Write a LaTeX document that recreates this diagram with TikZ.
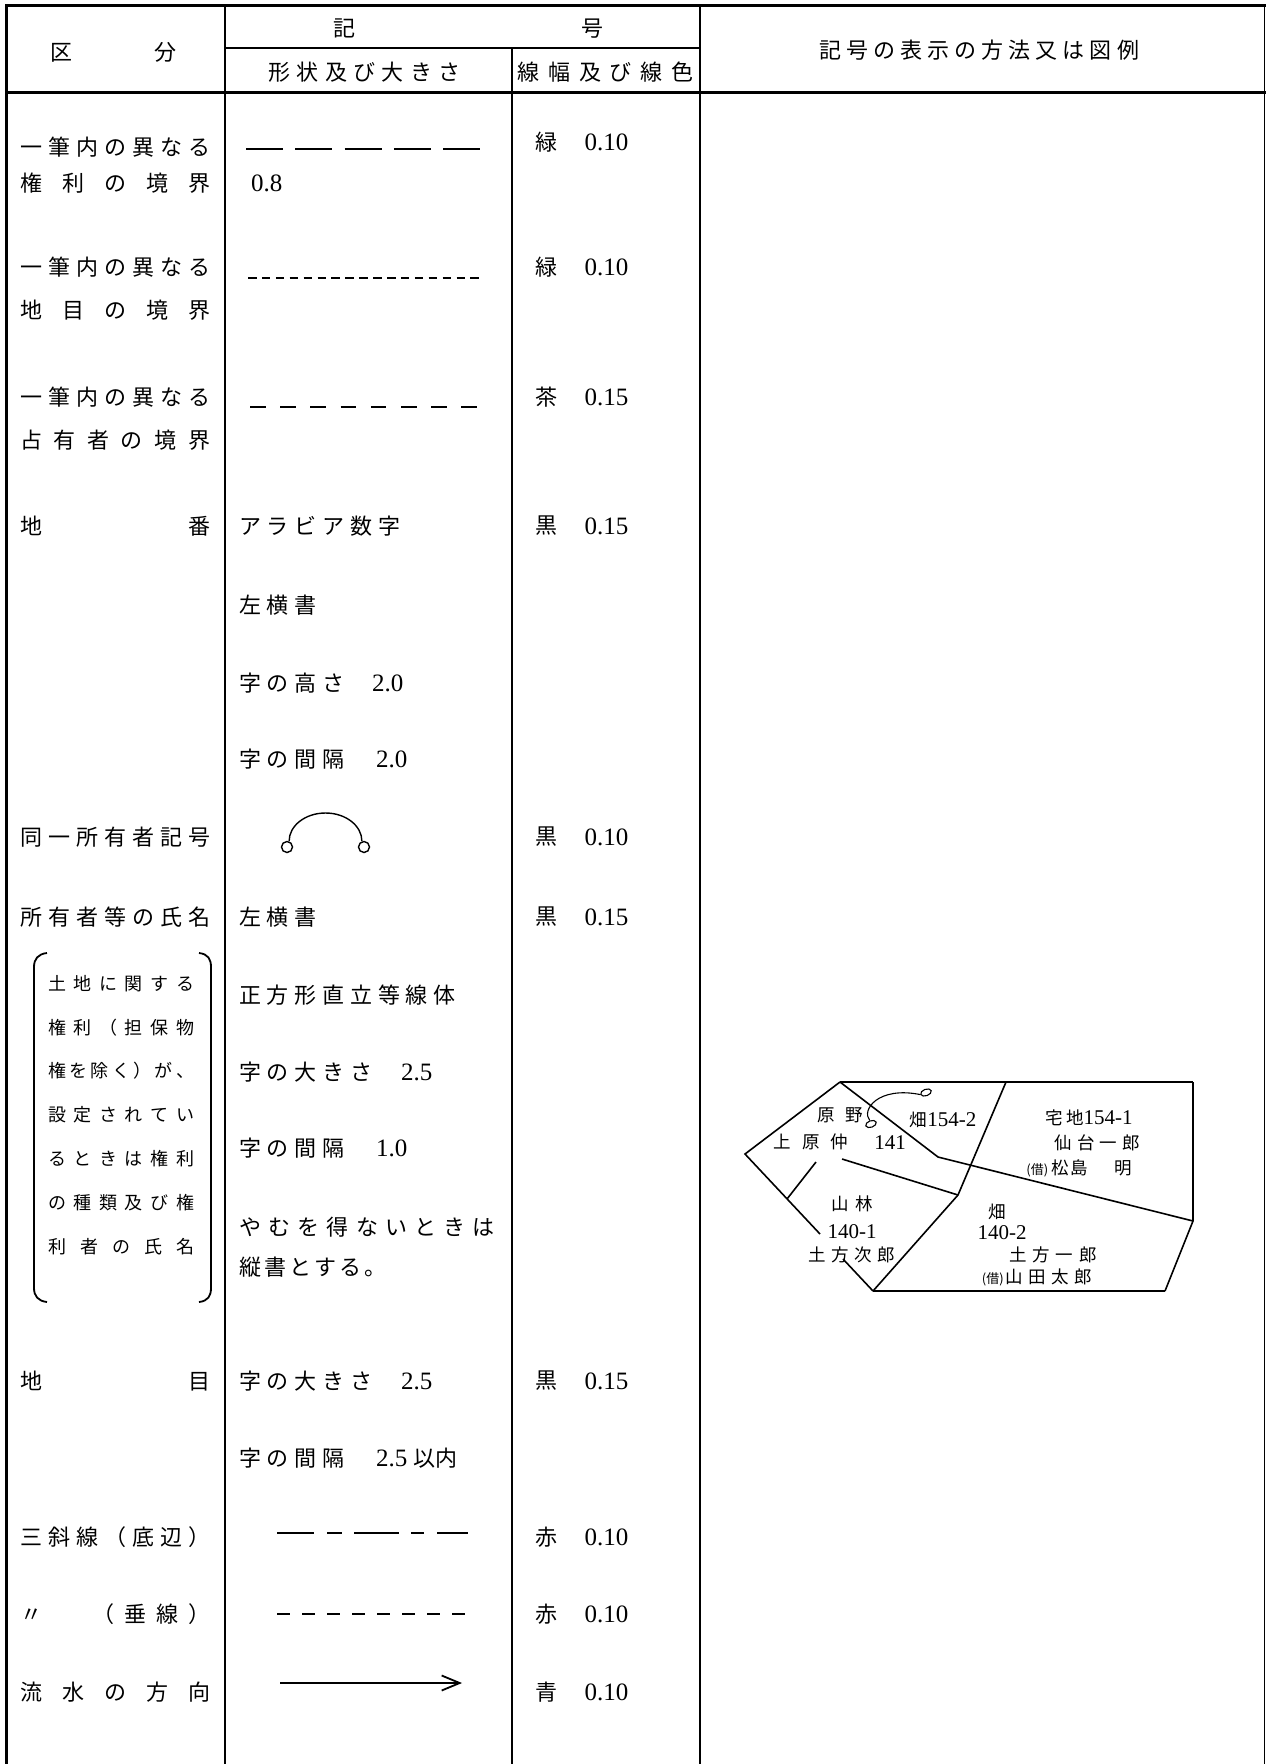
\documentclass[tikz,border=0pt]{standalone}
\usepackage{fontspec}
\setmainfont{Liberation Serif}
\newfontfamily\jpfont{Noto Sans CJK JP}
\usetikzlibrary{positioning,arrows.meta,shapes.geometric}
\def\chsep{}
\def\chfirst#1{\ifx\relax#1\else#1\expandafter\chrest\fi}
\def\chrest#1{\ifx\relax#1\else\chsep#1\expandafter\chrest\fi}
\newcommand\evenly[2]{\hbox to #1{\def\chsep{\hfill}\expandafter\chfirst#2\relax}}
\newcommand\tracked[2]{\hbox{\def\chsep{\kern#1}\expandafter\chfirst#2\relax}}
\newcommand\jpm{\jpfont\fontsize{22}{25}\selectfont}
\newcommand\mapnum[1]{{\rmfamily\fontsize{21}{24}\selectfont#1}}
\newcommand\kari{{\jpfont\fontsize{13}{14}\selectfont(借)}}
\tikzset{x=1pt,y=-1pt,
	 head/.style={inner sep=0pt,font=\jpm},
	 kubun/.style={inner sep=0pt,anchor=west,font=\jpm},
	 form/.style={inner sep=0pt,anchor=west,font=\jpm},
	 note/.style={inner sep=0pt,anchor=west,font=\jpfont\fontsize{18}{20}\selectfont},
	 num/.style={inner sep=0pt,anchor=west,font=\fontsize{25}{28}\selectfont},
	 maptext/.style={inner sep=0pt,font=\jpfont\fontsize{17.5}{20}\selectfont},
	 tblborder/.style={line width=3pt},
	 tblline/.style={line width=2.2pt},
	 brk/.style={line width=1.8pt},
	 sym/.style={line width=2pt},
	 ring/.style={circle,draw,inner sep=0pt,minimum size=11pt,line width=1.4pt},
	 oval/.style={ellipse,draw,inner sep=0pt,minimum width=11pt,minimum height=6.5pt,line width=1.1pt,rotate=20},
	 lot/.style={line width=1.6pt},
	 node distance = 27pt
	 }

\begin{document}
\begin{tikzpicture} % legend table
        \useasboundingbox (0,0) rectangle (1266,1764);
        \draw[tblborder] (6,1764) -- (6,5) -- (1266,5);
        \draw[tblborder] (6,92) -- (1266,92);
        \draw[line width=1.5pt] (1264.5,5) -- (1264.5,1764);
        \draw[tblline] (225,5) -- (225,1764);
        \draw[tblline] (700,5) -- (700,1764);
        \draw[tblline] (512,48) -- (512,1764);
        \draw[tblline,line width=1.7pt] (225,48) -- (700,48);

        \node[head] (h1) at (113.5,52) {\evenly{126pt}{区分}};
        \node[head] (h2) at (468.5,29) {\evenly{270pt}{記号}};
        \node[head] (h3) at (364.5,72) {\evenly{192pt}{形状及び大きさ}};
        \node[head] (h4) at (605.5,72) {\evenly{176pt}{線幅及び線色}};
        \node[head] (h5) at (979,50) {\evenly{320pt}{記号の表示の方法又は図例}};

        \node[kubun] (k1) at (20,147) {\evenly{190pt}{一筆内の異なる}};
        \node[kubun] (k2) at (20,183) {\evenly{190pt}{権利の境界}};
        \node[kubun] (k3) at (20,267) {\evenly{190pt}{一筆内の異なる}};
        \node[kubun] (k4) at (20,310) {\evenly{190pt}{地目の境界}};
        \node[kubun] (k5) at (20,397) {\evenly{190pt}{一筆内の異なる}};
        \node[kubun] (k6) at (20,440) {\evenly{190pt}{占有者の境界}};
        \node[kubun] (k7) at (20,526) {\evenly{190pt}{地番}};
        \node[kubun] (k8) at (20,837) {\evenly{190pt}{同一所有者記号}};
        \node[kubun] (k9) at (20,917) {\evenly{190pt}{所有者等の氏名}};
        \node[kubun] (k10) at (20,1381) {\evenly{190pt}{地目}};
        \node[kubun] (k11) at (20,1537) {\evenly{190pt}{三斜線（底辺）}};
        \node[kubun] (k12) at (20,1614) {\hbox to 190pt{〃\hfill\evenly{118pt}{（垂線）}}};
        \node[kubun] (k13) at (20,1692) {\evenly{190pt}{流水の方向}};

        \draw[brk] (47,953) .. controls (38,954) and (34,959) .. (34,967) -- (34,1288) .. controls (34,1296) and (38,1301) .. (47,1302);
        \draw[brk] (199,953) .. controls (208,954) and (211,959) .. (211,967) -- (211,1288) .. controls (211,1296) and (208,1301) .. (199,1302);
        \node[note] (n1) at (48,984) {\evenly{146pt}{土地に関する}};
        \node[note] (n2) at (48,1028) {\evenly{146pt}{権利（担保物}};
        \node[note] (n3) at (48,1071) {\evenly{146pt}{権を除く）が、}};
        \node[note] (n4) at (48,1115) {\evenly{146pt}{設定されてい}};
        \node[note] (n5) at (48,1159) {\evenly{146pt}{るときは権利}};
        \node[note] (n6) at (48,1203) {\evenly{146pt}{の種類及び権}};
        \node[note] (n7) at (48,1247) {\evenly{146pt}{利者の氏名}};

        \coordinate (s1a) at (246,149); \coordinate (s1b) at (480,149);
        \draw[sym,line width=2.4pt,dash pattern=on 37pt off 12.3pt] (s1a) -- (s1b);
        \node[num] (f1) at (251,183) {0.8};
        \coordinate (s2a) at (248,278); \coordinate (s2b) at (480,278);
        \draw[sym,dash pattern=on 8.5pt off 5.4pt] (s2a) -- (s2b);
        \coordinate (s3a) at (250,407); \coordinate (s3b) at (477,407);
        \draw[sym,dash pattern=on 15.5pt off 14.7pt] (s3a) -- (s3b);
        \node[form] (f4) at (239,526) {\tracked{5.8pt}{アラビア数字}};
        \node[form] (f5) at (239,605) {\tracked{5.8pt}{左横書}};
        \node[form] (f6) at (239,683) {\tracked{5.8pt}{字の高さ}};
        \node[num] (f6n) at (372,683) {2.0};
        \node[form] (f7) at (239,759) {\tracked{5.8pt}{字の間隔}};
        \node[num] (f7n) at (376,759) {2.0};
        \node[ring] (o1) at (287,847) {};
        \node[ring] (o2) at (364,847) {};
        \coordinate (o3) at (325.5,813);
        \draw[line width=1.4pt] (o1.70) .. controls (289,826) and (305,813) .. (o3) .. controls (346,813) and (362,826) .. (o2.110);
        \node[form] (f9) at (239,917) {\tracked{5.8pt}{左横書}};
        \node[form] (f10) at (239,995) {\tracked{5.8pt}{正方形直立等線体}};
        \node[form] (f11) at (239,1072) {\tracked{5.8pt}{字の大きさ}};
        \node[num] (f11n) at (401,1072) {2.5};
        \node[form] (f12) at (239,1148) {\tracked{5.8pt}{字の間隔}};
        \node[num] (f12n) at (376,1148) {1.0};
        \node[form] (f13) at (239,1227) {\tracked{7.2pt}{やむを得ないときは}};
        \node[form] (f14) at (239,1267) {\tracked{3pt}{縦書とする。}};
        \node[form] (f15) at (239,1381) {\tracked{5.8pt}{字の大きさ}};
        \node[num] (f15n) at (401,1381) {2.5};
        \node[form] (f16) at (239,1458) {\tracked{5.8pt}{字の間隔}};
        \node[num] (f16n) at (376,1458) {2.5 {\jpm 以内}};
        \coordinate (s4a) at (277,1533); \coordinate (s4b) at (468,1533);
        \draw[sym,dash pattern=on 37pt off 13pt on 15pt off 12pt on 45pt off 12pt on 13pt off 13pt on 32pt off 20pt] (s4a) -- (s4b);
        \coordinate (s5a) at (277,1614); \coordinate (s5b) at (467,1614);
        \draw[sym,dash pattern=on 13pt off 12pt] (s5a) -- (s5b);
        \coordinate (s6a) at (280,1683); \coordinate (s6b) at (462,1683);
        \draw[sym,line width=1.8pt,-{Straight Barb[length=18pt,width=15pt]}] (s6a) -- (s6b);

        \node[kubun] (c1) at (535,142) {緑};
        \node[num] (w1) [right=of c1] {0.10};
        \node[kubun] (c2) at (535,267) {緑};
        \node[num] (w2) [right=of c2] {0.10};
        \node[kubun] (c3) at (535,397) {茶};
        \node[num] (w3) [right=of c3] {0.15};
        \node[kubun] (c4) at (535,526) {黒};
        \node[num] (w4) [right=of c4] {0.15};
        \node[kubun] (c5) at (535,837) {黒};
        \node[num] (w5) [right=of c5] {0.10};
        \node[kubun] (c6) at (535,917) {黒};
        \node[num] (w6) [right=of c6] {0.15};
        \node[kubun] (c7) at (535,1381) {黒};
        \node[num] (w7) [right=of c7] {0.15};
        \node[kubun] (c8) at (535,1537) {赤};
        \node[num] (w8) [right=of c8] {0.10};
        \node[kubun] (c9) at (535,1614) {赤};
        \node[num] (w9) [right=of c9] {0.10};
        \node[kubun] (c10) at (535,1692) {青};
        \node[num] (w10) [right=of c10] {0.10};

        % example map
        \coordinate (pa) at (840,1082);
        \coordinate (pb) at (1193,1082);
        \coordinate (pc) at (1193,1221);
        \coordinate (pd) at (1165,1291);
        \coordinate (pe) at (873,1291);
        \coordinate (pf) at (843,1259);
        \coordinate (pg) at (820,1234);
        \coordinate (ph) at (787,1199);
        \coordinate (pl) at (745,1154);
        \coordinate (pm) at (938,1157);
        \coordinate (pn) at (1006,1082);
        \coordinate (pp) at (958,1195);
        \coordinate (pq) at (842,1159);
        \coordinate (pr) at (816,1162);
        \draw[lot] (pg) -- (pl) -- (pa);
        \draw[lot] (pb) -- (pc) -- (pd);
        \draw[lot] (pe) -- (pf);
        \draw[lot,line width=2.3pt] (pa) -- (pb);
        \draw[lot,line width=2.3pt] (pe) -- (pd);
        \draw[lot] (pa) -- (pm) -- (pc);
        \draw[lot] (pn) -- (pp) -- (pe);
        \draw[lot] (pq) -- (pp);
        \draw[lot] (ph) -- (pr);
        \node[oval] (e1) at (871,1124) {};
        \node[oval] (e2) at (926,1092.5) {};
        \draw[line width=1.1pt] (e1.north) .. controls (861,1110) and (878,1086) .. (e2.west);

        \node[maptext] (t1) at (840,1115) {\tracked{10pt}{原野}};
        \node[maptext] (t2) at (811,1142) {\evenly{75pt}{上原仲}};
        \node[maptext] (t3) at (890,1143) {\mapnum{141}};
        \node[maptext] (t4) at (943,1120) {畑\mapnum{154-2}};
        \node[maptext] (t5) at (1089,1118) {\tracked{3pt}{宅地}\mapnum{154-1}};
        \node[maptext] (t6) at (1097,1143) {\tracked{5pt}{仙台一郎}};
        \node[maptext] (t7) at (1079,1168) {\kari\kern3pt 松\kern2pt 島\kern26pt 明};
        \node[maptext] (t8) at (852,1204) {\tracked{7pt}{山林}};
        \node[maptext] (t9) at (852,1232) {\mapnum{140-1}};
        \node[maptext] (t10) at (852,1255) {\tracked{5.5pt}{土方次郎}};
        \node[maptext] (t11) at (997,1212) {畑};
        \node[maptext] (t12) at (1002,1233) {\mapnum{140-2}};
        \node[maptext] (t13) at (1053,1255) {\tracked{6pt}{土方一郎}};
        \node[maptext] (t14) at (1037,1277) {\kari\kern2pt\tracked{5.5pt}{山田太郎}};
\end{tikzpicture}
\end{document}
